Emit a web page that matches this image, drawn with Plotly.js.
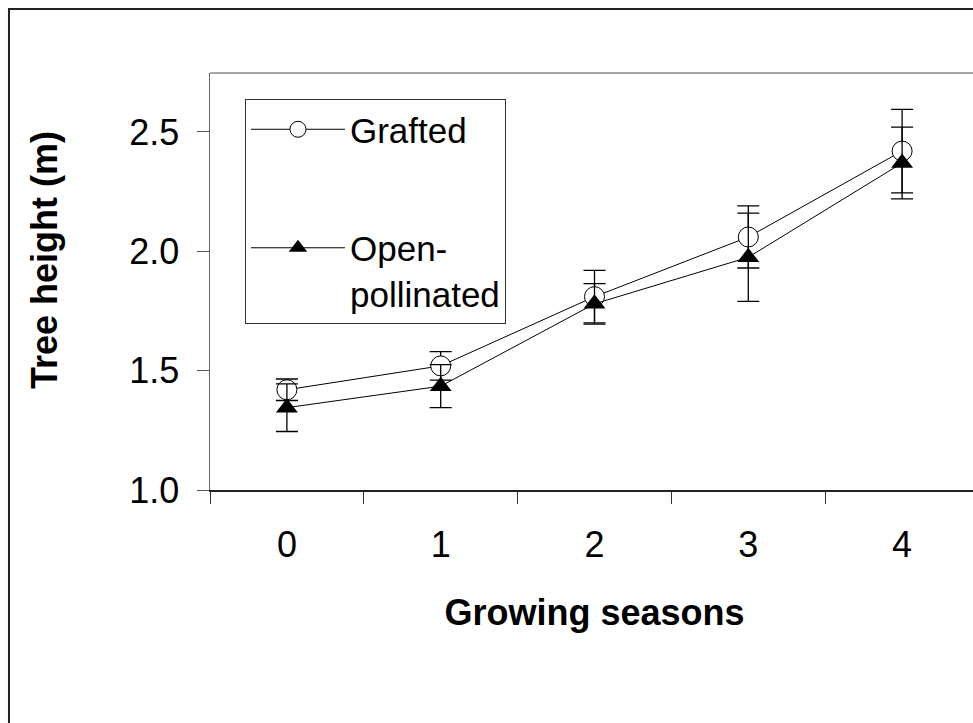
<!DOCTYPE html>
<html><head><meta charset="utf-8">
<script src="https://cdn.plot.ly/plotly-3.0.1.min.js"></script>
<style>html,body{margin:0;padding:0;overflow:hidden;background:#fff}#chart{width:1000px;height:760px}</style>
</head><body><div id="chart"></div><script>
const seasons = ['0', '1', '2', '3', '4'];
const graftedHeight = [1.42, 1.52, 1.81, 2.06, 2.42];
const graftedErr = [0.045, 0.06, 0.11, 0.13, 0.175];
const openHeight = [1.345, 1.435, 1.78, 1.975, 2.37];
const openErr = [0.10, 0.09, 0.085, 0.185, 0.15];
const yTicks = [1.0, 1.5, 2.0, 2.5];
const yTickText = ['1.0', '1.5', '2.0', '2.5'];

const FONT = 'Liberation Sans, Arial, sans-serif';

const traces = [
  {
    x: seasons, y: graftedHeight, name: 'Grafted', type: 'scatter', mode: 'lines+markers',
    legendgroup: 'g1',
    line: {color: '#000', width: 1},
    marker: {symbol: 'circle', size: 20, color: '#fff', line: {color: '#000', width: 1}},
    error_y: {type: 'data', array: graftedErr, visible: true, color: '#000', thickness: 1.3, width: 11}
  },
  {
    x: seasons, y: openHeight, name: 'Open-<br>pollinated', type: 'scatter', mode: 'lines+markers',
    legendgroup: 'g2',
    line: {color: '#000', width: 1},
    marker: {symbol: 'triangle-up', size: 19, color: '#000', line: {color: '#000', width: 0}},
    error_y: {type: 'data', array: openErr, visible: true, color: '#000', thickness: 1.3, width: 11}
  }
];

const layout = {
  width: 1000, height: 760,
  margin: {l: 210, r: 21, t: 73, b: 270, pad: 0},
  paper_bgcolor: '#fff', plot_bgcolor: '#fff',
  font: {family: FONT, color: '#000', size: 36},
  showlegend: true,
  legend: {
    x: 0.0455, y: 0.9376, xanchor: 'left', yanchor: 'top',
    bordercolor: '#333', borderwidth: 1, bgcolor: '#fff',
    font: {family: FONT, size: 35, color: '#000'},
    valign: 'top', traceorder: 'grouped', tracegroupgap: 70, itemwidth: 94
  },
  xaxis: {
    type: 'category', tickson: 'boundaries', range: [-0.5, 4.5],
    showgrid: false, zeroline: false,
    showline: true, linecolor: '#222', linewidth: 1.5,
    ticks: 'outside', ticklen: 12, tickcolor: '#333', tickwidth: 1,
    tickfont: {family: FONT, size: 36}, ticklabelstandoff: 22,
    automargin: false,
    title: {text: 'Growing seasons', font: {family: FONT, size: 36, weight: 'bold'}, standoff: 36}
  },
  yaxis: {
    range: [1.0, 2.747], tickvals: yTicks, ticktext: yTickText,
    showgrid: false, zeroline: false,
    showline: true, linecolor: '#666', linewidth: 1.5,
    ticks: 'outside', ticklen: 12, tickcolor: '#555', tickwidth: 1,
    tickfont: {family: FONT, size: 36}, ticklabelstandoff: 10,
    automargin: false
  },
  annotations: [
    {text: 'Tree height (m)', xref: 'paper', yref: 'paper', x: -0.2146, y: 0.5516,
     xanchor: 'center', yanchor: 'middle', textangle: -90, showarrow: false,
     font: {family: FONT, size: 36, weight: 'bold', color: '#000'}}
  ],
  shapes: [
    {type: 'line', xref: 'paper', yref: 'paper', x0: 0, x1: 1, y0: 1, y1: 1,
     line: {color: '#888', width: 1.5}},
    {type: 'rect', xref: 'paper', yref: 'paper', x0: -0.2614, x1: 2, y0: -2, y1: 1.1535,
     line: {color: '#222', width: 2}, layer: 'below'}
  ]
};

Plotly.newPlot('chart', traces, layout, {staticPlot: true, displayModeBar: false});
</script></body></html>
